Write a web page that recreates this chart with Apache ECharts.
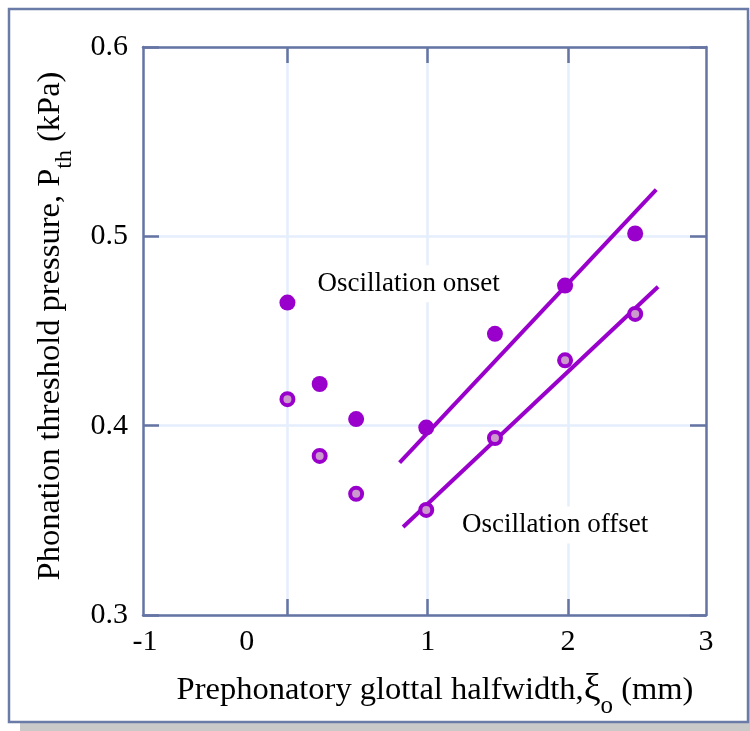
<!DOCTYPE html>
<html>
<head>
<meta charset="utf-8">
<script src="https://cdn.jsdelivr.net/npm/echarts@6/dist/echarts.min.js"></script>
<style>html,body{margin:0;padding:0;background:#fff;}#c{width:750px;height:731px;}</style>
</head>
<body>
<div id="c"></div>
<script>
// ---- data ----
var onsetX   = [0, 0.23, 0.49, 0.99, 1.48, 1.98, 2.48];
var onsetY   = [0.465, 0.422, 0.4035, 0.399, 0.4485, 0.474, 0.5015];
var offsetX  = [0, 0.23, 0.49, 0.99, 1.48, 1.98, 2.48];
var offsetY  = [0.414, 0.384, 0.364, 0.3555, 0.3935, 0.4345, 0.459];
var onsetFitX  = [0.80, 2.63];
var onsetFitY  = [0.3805, 0.5247];
var offsetFitX = [0.825, 2.643];
var offsetFitY = [0.3465, 0.4734];
var xTickLabels = ['-1', '0', '1', '2', '3'];
var yTickLabels = ['0.3', '0.4', '0.5', '0.6'];
var annotations = [
  {x: 0.864, y: 0.475, text: 'Oscillation onset'},
  {x: 1.909, y: 0.3476, text: 'Oscillation offset'}
];

// ---- layout / style ----
var xLabelPos = [-1.015, -0.29, 1, 2, 2.985];
var xTickPos = [0, 1, 2];
var AX = '#6574a3', GRID = '#e4eefc', PURPLE = '#9900cc', PINK = '#cc99cc';
var FONT = '"Liberation Serif", "Times New Roman", serif';

function pairs(xs, ys) { return xs.map(function (x, i) { return [x, ys[i]]; }); }

var chart = echarts.init(document.getElementById('c'), null, {renderer: 'canvas'});

var baseX = {
  type: 'value', min: -1.03, max: 2.985,
  axisLine: {show: true, onZero: false, lineStyle: {color: AX, width: 2.5}},
  axisTick: {show: true, inside: true, length: 16, customValues: xTickPos, lineStyle: {color: AX, width: 2.5}},
  splitLine: {show: false}
};
var baseY = {
  type: 'value', min: 0.3, max: 0.6, interval: 0.1,
  axisLine: {show: true, onZero: false, lineStyle: {color: AX, width: 2.5}},
  axisTick: {show: true, inside: true, length: 16, lineStyle: {color: AX, width: 2.5}},
  splitLine: {show: false}
};

var option = {
  backgroundColor: 'transparent',
  animation: false,
  graphic: [
    {type: 'rect', z: -10, silent: true, shape: {x: 20, y: 20, width: 740, height: 711}, style: {fill: '#c9c9c9'}},
    {type: 'rect', z: -9, silent: true, shape: {x: 9, y: 9, width: 739, height: 713}, style: {fill: '#fff', stroke: '#6b7ba8', lineWidth: 2.5}}
  ],
  grid: {left: 143, right: 44, top: 47, bottom: 116, containLabel: false},
  xAxis: [
    Object.assign({}, baseX, {
      position: 'bottom',
      splitLine: {show: true, lineStyle: {color: GRID, width: 2.5}},
      axisLabel: {
        show: true, margin: 12, customValues: xLabelPos,
        color: '#000', fontFamily: FONT, fontSize: 30,
        formatter: function (v) {
          for (var i = 0; i < xLabelPos.length; i++) if (Math.abs(xLabelPos[i] - v) < 1e-6) return xTickLabels[i];
          return '';
        }
      },
      name: '{n|Prephonatory glottal halfwidth,}{g|ξ}{s|o}{n| (mm)}',
      nameLocation: 'middle', nameGap: 56,
      nameTextStyle: {
        color: '#000', fontFamily: FONT, fontSize: 32, padding: [0, 0, 0, 21],
        rich: {
          n: {fontFamily: FONT, fontSize: 32.5, color: '#000'},
          g: {fontFamily: FONT, fontSize: 38, color: '#000'},
          s: {fontFamily: FONT, fontSize: 25, color: '#000', verticalAlign: 'bottom', padding: [0, 0, -10, 0]}
        }
      }
    }),
    Object.assign({}, baseX, {position: 'top', axisLabel: {show: false}})
  ],
  yAxis: [
    Object.assign({}, baseY, {
      position: 'left',
      splitLine: {show: true, lineStyle: {color: GRID, width: 2.5}},
      axisLabel: {
        show: true, margin: 15, color: '#000', fontFamily: FONT, fontSize: 30,
        formatter: function (v) { return yTickLabels[Math.round((v - 0.3) * 10)]; }
      },
      name: '{n|Phonation threshold pressure, P}{s|th}{n| (kPa)}',
      nameLocation: 'middle', nameGap: 76, nameRotate: 90,
      nameTextStyle: {
        color: '#000', fontFamily: FONT, fontSize: 32.5, padding: [0, 0, 0, 10],
        rich: {
          n: {fontFamily: FONT, fontSize: 32.5, color: '#000'},
          s: {fontFamily: FONT, fontSize: 24, color: '#000', verticalAlign: 'bottom', padding: [0, 0, -10, 0]}
        }
      }
    }),
    Object.assign({}, baseY, {position: 'right', axisLabel: {show: false}})
  ],
  series: [
    {
      name: 'onset fit', type: 'line', data: pairs(onsetFitX, onsetFitY), showSymbol: false, symbol: 'none',
      lineStyle: {color: PURPLE, width: 4}, z: 3, silent: true
    },
    {
      name: 'offset fit', type: 'line', data: pairs(offsetFitX, offsetFitY), showSymbol: false, symbol: 'none',
      lineStyle: {color: PURPLE, width: 4}, z: 3, silent: true
    },
    {
      name: 'Oscillation onset', type: 'scatter', data: pairs(onsetX, onsetY), symbol: 'circle', symbolSize: 16,
      itemStyle: {color: PURPLE, opacity: 1}, z: 5
    },
    {
      name: 'Oscillation offset', type: 'scatter', data: pairs(offsetX, offsetY), symbol: 'circle', symbolSize: 12,
      itemStyle: {color: PINK, borderColor: PURPLE, borderWidth: 4, opacity: 1}, z: 5
    },
    {
      name: 'annotations', type: 'scatter', symbolSize: 0, silent: true, z: 2,
      itemStyle: {opacity: 1, color: '#fff'},
      data: annotations.map(function (a) { return {value: [a.x, a.y], name: a.text}; }),
      label: {
        show: true, position: 'inside', formatter: '{b}', color: '#000', opacity: 1,
        textBorderWidth: 0, fontFamily: FONT, fontSize: 27, backgroundColor: '#fff', padding: [5, 3, 5, 3]
      }
    }
  ]
};
chart.setOption(option);
</script>
</body>
</html>
